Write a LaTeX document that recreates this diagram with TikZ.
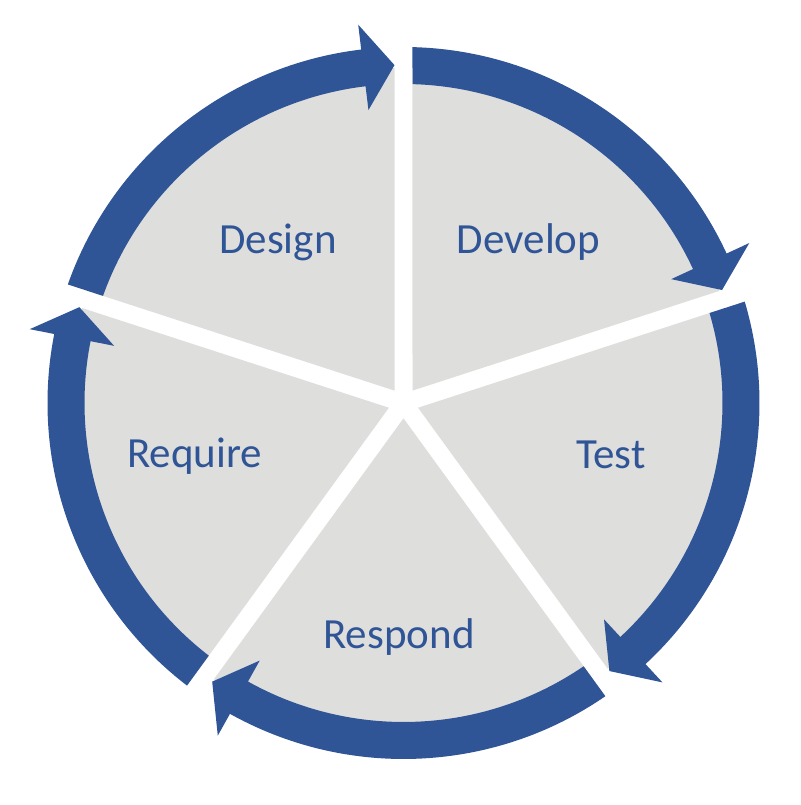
\documentclass[tikz,border=0pt]{standalone}
\usepackage{fontspec}
\setmainfont{Carlito}
\usetikzlibrary{positioning}
\definecolor{cycleblue}{HTML}{2F5597}
\definecolor{wedgegray}{HTML}{DEDEDC}

\begin{document}
\begin{tikzpicture}[x=1pt, y=1pt,
      wedge/.style={fill=wedgegray},
      band/.style={fill=cycleblue},
      lbl/.style={text=cycleblue, font=\fontsize{43}{50}\selectfont, anchor=base, inner sep=0pt}
    ]
    \useasboundingbox (-403.5,-402) rectangle (396.5,403);
    % gray wedges, 18pt gaps between them
    \foreach \g in {90,18,-54,-126,162} {
      \fill[wedge] (\g-36:15.31) -- (\g-1.539:335)
        arc[start angle=\g-1.539, end angle=\g-70.461, radius=335] -- cycle;
    }
    % blue bands with arrow heads, clockwise
    \foreach \g in {90,18,-54,-126,162} {
      \pgfmathsetmacro\tip{\g-72+1.526}
      \pgfmathsetmacro\back{\tip+5.3}
      \fill[band] (\g-1.449:356) arc[start angle=\g-1.449, end angle=\back, radius=356]
        -- (\back:381) -- (\tip:338) -- (\back:295) -- (\back:319)
        arc[start angle=\back, end angle=\g-1.617, radius=319] -- cycle;
    }
    \node[lbl] (design)  at (-125.5,149) {Design};
    \node[lbl] (develop) at (125,149)    {Develop};
    \node[lbl] (test)    at (207.5,-66)  {Test};
    \node[lbl] (respond) at (-4.5,-245)  {Respond};
    \node[lbl] (require) at (-209,-65)   {Require};
  \end{tikzpicture}
\end{document}
